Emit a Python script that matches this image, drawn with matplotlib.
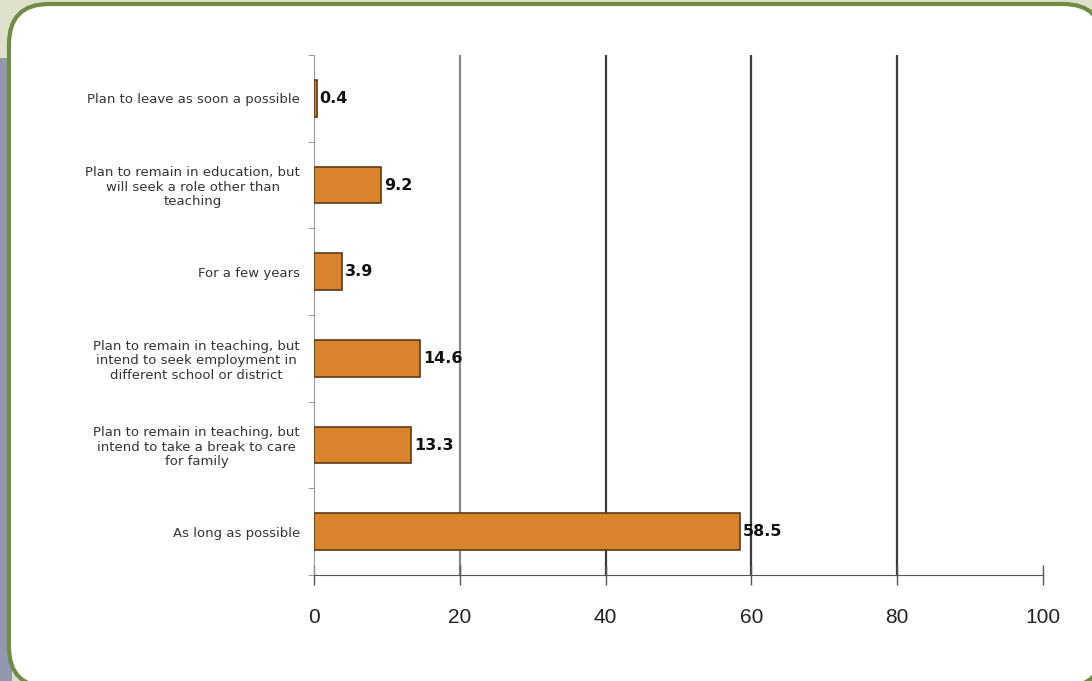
import matplotlib.pyplot as plt
import numpy as np
from matplotlib.patches import FancyBboxPatch, Rectangle
from matplotlib.transforms import IdentityTransform

# data, listed bottom to top as drawn
categories = [
    "As long as possible",
    "Plan to remain in teaching, but\nintend to take a break to care\nfor family",
    "Plan to remain in teaching, but\nintend to seek employment in\ndifferent school or district",
    "For a few years",
    "Plan to remain in education, but\nwill seek a role other than\nteaching",
    "Plan to leave as soon a possible",
]
values = [58.5, 13.3, 14.6, 3.9, 9.2, 0.4]
xticks = [0, 20, 40, 60, 80, 100]

W, H = 1092, 681
fig = plt.figure(figsize=(W / 100, H / 100), dpi=100)
fig.patch.set_facecolor("#dde0cb")

# page decoration: blue-grey strip + rounded white panel (pixel coords, origin bottom-left)
fig.patches.append(Rectangle((0, 0), 12, H - 58, transform=IdentityTransform(),
                             facecolor="#9297ae", edgecolor="none", zorder=0))
fig.patches.append(FancyBboxPatch((9, -6), 1094, H - 4 + 6,
                                  boxstyle="round,pad=0,rounding_size=40",
                                  transform=IdentityTransform(),
                                  facecolor="white", edgecolor="#6e8c44",
                                  linewidth=3, zorder=1))

ax = fig.add_axes([314 / W, 106 / H, (1043 - 314) / W, (575 - 55) / H])
ax.set_facecolor("none")
ax.set_zorder(2)

y = np.arange(len(categories))
ax.barh(y, values, height=0.42, color="#d9832c", edgecolor="#5b3a18",
        linewidth=1.2, zorder=3)

for yi, v in zip(y, values):
    ax.annotate(f"{v}", xy=(v, yi), xytext=(2, 0), textcoords="offset points",
                ha="left", va="center", fontsize=11.5, fontweight="bold",
                family="DejaVu Sans", color="#111111", zorder=4)

ax.set_xlim(0, 100)
ax.set_ylim(-0.5, len(categories) - 0.5)
ax.set_xticks(xticks)
ax.set_xticklabels([str(t) for t in xticks], fontsize=15, family="Liberation Sans",
                   color="#222222")
ax.tick_params(axis="x", direction="inout", length=14, width=1, color="#555555", pad=17)

ax.set_yticks(y)
ax.set_yticklabels(categories, fontsize=9.5, family="DejaVu Sans",
                   color="#333333", multialignment="center", linespacing=1.15)
ax.tick_params(axis="y", length=0, pad=10)
ax.set_yticks(np.arange(-0.5, len(categories), 1.0), minor=True)
ax.tick_params(axis="y", which="minor", length=4, color="#888888", direction="out")

# vertical gridlines
for t, c in zip([20, 40, 60, 80], ["#8a8a8a", "#3a3a3a", "#3a3a3a", "#3a3a3a"]):
    ax.axvline(t, color=c, linewidth=1.6, zorder=1)

for s in ["top", "right"]:
    ax.spines[s].set_visible(False)
ax.spines["left"].set_color("#999999")
ax.spines["bottom"].set_color("#555555")

fig.savefig("out.png", dpi=100, facecolor=fig.get_facecolor())
